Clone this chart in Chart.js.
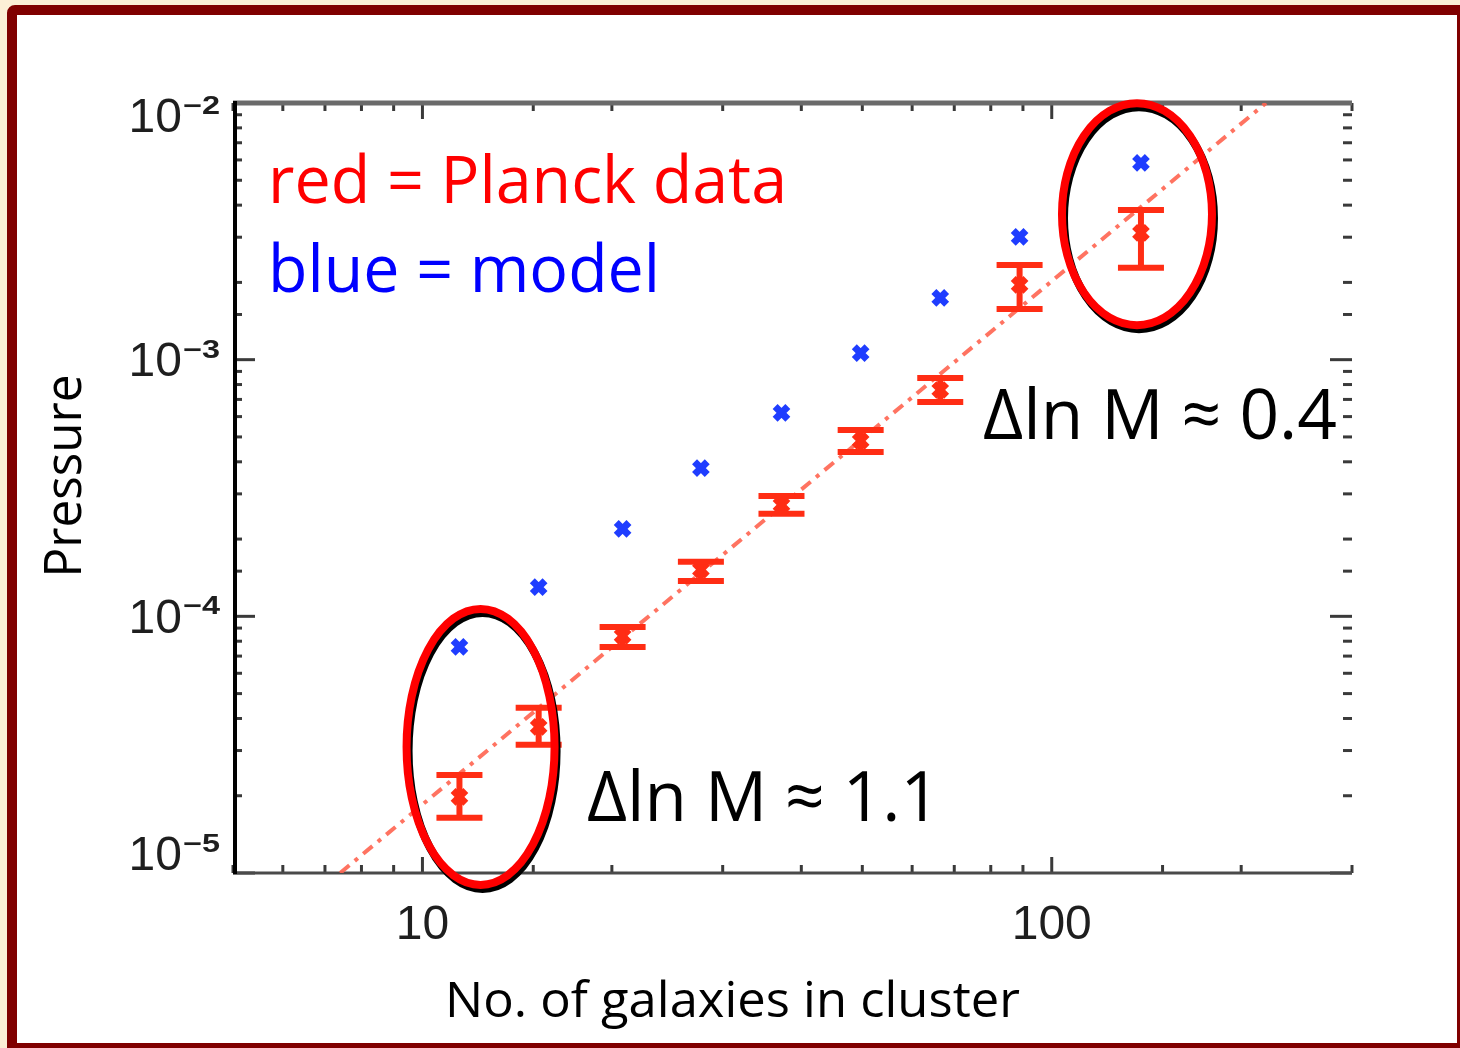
<!DOCTYPE html>
<html>
<head>
<meta charset="utf-8">
<title>Pressure vs. number of galaxies in cluster</title>
<script src="https://cdn.jsdelivr.net/npm/chart.js@4.4.1/dist/chart.umd.min.js"></script>
<style>
  html, body { margin: 0; padding: 0; }
  body { width: 1460px; height: 1048px; background: #fcefd6; position: relative; overflow: hidden; }
  .frame {
    position: absolute; left: 7px; top: 5px; right: 0; bottom: 0;
    background: #fff; box-sizing: border-box;
    border: solid #800000; border-width: 10px 3px 5px 10px;
    border-top-left-radius: 8px;
  }
  .chart-wrap { position: absolute; left: 0; top: 0; width: 1460px; height: 1048px; }
</style>
</head>
<body>
<div class="frame"></div>
<div class="chart-wrap"><canvas id="pressureChart"></canvas></div>
<script>
// richness bins (no. of galaxies) and stacked pressure per bin
const GALAXIES = [11.45, 15.3, 20.8, 27.7, 37.2, 49.7, 66.5, 88.9, 138.6];
const PLANCK_P = [1.98e-5, 3.71e-5, 8.39e-5, 1.52e-4, 2.72e-4, 4.83e-4, 7.62e-4, 1.955e-3, 3.12e-3];
const PLANCK_LO = [1.64e-5, 3.16e-5, 7.6e-5, 1.374e-4, 2.51e-4, 4.37e-4, 6.84e-4, 1.576e-3, 2.28e-3];
const PLANCK_HI = [2.41e-5, 4.4e-5, 9.09e-5, 1.63e-4, 2.94e-4, 5.32e-4, 8.49e-4, 2.34e-3, 3.83e-3];
const MODEL_P = [7.6e-5, 1.3e-4, 2.19e-4, 3.78e-4, 6.2e-4, 1.06e-3, 1.74e-3, 3.01e-3, 5.84e-3];

// dash-dot power-law fit through the Planck points
const FIT_N = [7.4, 219];
const FIT_P = [1e-5, 1e-2];

const X_LABELS = [10, 100];
const Y_EXPONENTS = [-2, -3, -4, -5];

const RED = '#ff2d14';
const BLUE = '#1f3dff';

function isDecade(v) {
  const l = Math.log10(v);
  return Math.abs(l - Math.round(l)) < 1e-6;
}

function seg(ctx, x1, y1, x2, y2) {
  ctx.beginPath();
  ctx.moveTo(x1, y1);
  ctx.lineTo(x2, y2);
  ctx.stroke();
}

// text squeezed/stretched to a fixed width
function fitText(ctx, text, x, y, width) {
  const w = ctx.measureText(text).width;
  ctx.save();
  ctx.translate(x, y);
  ctx.scale(width / w, 1);
  ctx.fillText(text, 0, 0);
  ctx.restore();
}

// IDL-style box: inward ticks on all sides, 10^n labels on the left
const idlAxes = {
  id: 'idlAxes',
  beforeDatasetsDraw(chart) {
    const { ctx, chartArea: a, scales: { x, y } } = chart;
    ctx.save();
    ctx.lineCap = 'butt';

    ctx.strokeStyle = '#3a3a3a';
    ctx.lineWidth = 3;
    x.ticks.forEach(function (t) {
      const px = x.getPixelForValue(t.value);
      const len = isDecade(t.value) ? 16 : 8;
      seg(ctx, px, a.bottom, px, a.bottom - len);
      seg(ctx, px, a.top, px, a.top + len);
    });
    y.ticks.forEach(function (t) {
      const py = y.getPixelForValue(t.value);
      const len = isDecade(t.value) ? 22 : 9;
      seg(ctx, a.left, py, a.left + len, py);
      seg(ctx, a.right, py, a.right - len, py);
    });

    ctx.strokeStyle = '#6a6a6a';
    ctx.lineWidth = 5;
    seg(ctx, a.left, a.top, a.right, a.top);
    ctx.strokeStyle = '#4a4a4a';
    ctx.lineWidth = 3;
    seg(ctx, a.left, a.bottom, a.right, a.bottom);
    ctx.strokeStyle = '#000';
    ctx.lineWidth = 4;
    seg(ctx, a.left + 2, a.top - 2, a.left + 2, a.bottom + 1);

    ctx.fillStyle = '#1e1e1e';
    Y_EXPONENTS.forEach(function (e) {
      let cy = y.getPixelForValue(Math.pow(10, e)) + 3;
      cy = Math.min(Math.max(cy, a.top + 16), a.bottom - 16);
      const sup = '\u2212' + Math.abs(e);
      const supLeft = a.left - 50;
      ctx.textAlign = 'left';
      ctx.textBaseline = 'alphabetic';
      ctx.font = 'bold 25px "Liberation Sans", Arial, sans-serif';
      fitText(ctx, sup, supLeft, cy - 5, 37);
      ctx.font = '48px "Liberation Sans", Arial, sans-serif';
      ctx.textAlign = 'right';
      ctx.textBaseline = 'middle';
      ctx.fillText('10', supLeft - 1, cy);
    });
    ctx.restore();
  }
};

const errorBars = {
  id: 'errorBars',
  afterDatasetsDraw(chart) {
    const { ctx, scales: { x, y } } = chart;
    ctx.save();
    ctx.strokeStyle = RED;
    ctx.lineWidth = 6;
    GALAXIES.forEach(function (n, i) {
      const px = x.getPixelForValue(n);
      const top = y.getPixelForValue(PLANCK_HI[i]);
      const bot = y.getPixelForValue(PLANCK_LO[i]);
      seg(ctx, px, top, px, bot);
      seg(ctx, px - 23, top, px + 23, top);
      seg(ctx, px - 23, bot, px + 23, bot);
    });
    ctx.restore();
  }
};

// highlighted bins and the labels written over the plot
const RINGS = [
  { n: 12.37, p: 3.1e-5, rx: 74, ry: 138 },
  { n: 136.6, p: 3.69e-3, rx: 75, ry: 111 }
];

const NOTES = [
  { text: 'red = Planck data', x: 268, y: 203, size: 66, width: 519, color: '#ff0000' },
  { text: 'blue = model', x: 268, y: 292, size: 66, width: 392, color: '#0000ff' },
  { text: '\u0394ln M \u2248 0.4', x: 983, y: 439, size: 70, width: 354, color: '#000' },
  { text: '\u0394ln M \u2248 1.1', x: 587, y: 821, size: 70, width: 353, color: '#000' },
  { text: 'No. of galaxies in cluster', x: 445, y: 1017, size: 50, width: 575, color: '#000' }
];

const notes = {
  id: 'notes',
  afterDraw(chart) {
    const { ctx, scales: { x, y } } = chart;
    ctx.save();
    RINGS.forEach(function (r) {
      const cx = x.getPixelForValue(r.n);
      const cy = y.getPixelForValue(r.p);
      ctx.lineWidth = 8;
      ctx.strokeStyle = '#000';
      ctx.beginPath();
      ctx.ellipse(cx + 2, cy + 4, r.rx, r.ry, 0, 0, Math.PI * 2);
      ctx.stroke();
      ctx.strokeStyle = '#ff0000';
      ctx.beginPath();
      ctx.ellipse(cx, cy, r.rx, r.ry, 0, 0, Math.PI * 2);
      ctx.stroke();
    });

    ctx.textAlign = 'left';
    ctx.textBaseline = 'alphabetic';
    NOTES.forEach(function (t) {
      ctx.fillStyle = t.color;
      ctx.font = t.size + 'px "Open Sans", "Noto Sans", sans-serif';
      fitText(ctx, t.text, t.x, t.y, t.width);
    });

    ctx.fillStyle = '#000';
    ctx.font = '52px "Open Sans", "Noto Sans", sans-serif';
    ctx.translate(81, 476);
    ctx.rotate(-Math.PI / 2);
    ctx.textAlign = 'center';
    const w = ctx.measureText('Pressure').width;
    ctx.scale(203 / w, 1);
    ctx.fillText('Pressure', 0, 0);
    ctx.restore();
  }
};

function toPoints(xs, ys) {
  return xs.map(function (v, i) { return { x: v, y: ys[i] }; });
}

new Chart(document.getElementById('pressureChart').getContext('2d'), {
  type: 'scatter',
  data: {
    datasets: [
      {
        label: 'fit',
        type: 'line',
        data: toPoints(FIT_N, FIT_P),
        borderColor: 'rgba(255, 100, 80, 0.9)',
        borderWidth: 4,
        borderDash: [12, 7, 4, 7],
        pointRadius: 0,
        fill: false,
        order: 3
      },
      {
        label: 'model',
        data: toPoints(GALAXIES, MODEL_P),
        pointStyle: 'crossRot',
        pointRadius: 9,
        borderWidth: 7,
        borderColor: BLUE,
        backgroundColor: BLUE,
        order: 2
      },
      {
        label: 'Planck',
        data: toPoints(GALAXIES, PLANCK_P),
        pointStyle: 'crossRot',
        pointRadius: 9,
        borderWidth: 7,
        borderColor: RED,
        backgroundColor: RED,
        order: 1
      }
    ]
  },
  options: {
    responsive: true,
    maintainAspectRatio: false,
    animation: false,
    layout: { padding: { top: 103, right: 108, left: 0, bottom: 0 } },
    plugins: {
      legend: { display: false },
      tooltip: { enabled: false }
    },
    scales: {
      x: {
        type: 'logarithmic',
        min: 5,
        max: 300,
        grid: { display: false, drawTicks: false },
        border: { display: false },
        ticks: {
          autoSkip: false,
          maxRotation: 0,
          padding: 24,
          color: '#1e1e1e',
          font: { family: '"Liberation Sans", Arial, sans-serif', size: 48 },
          callback: function (v) {
            return X_LABELS.some(function (l) { return Math.abs(l - v) < 1e-6; }) ? String(Math.round(v)) : '';
          }
        },
        afterFit: function (s) { s.height = 175; }
      },
      y: {
        type: 'logarithmic',
        min: 1e-5,
        max: 1e-2,
        grid: { display: false },
        border: { display: false },
        ticks: { display: false },
        afterFit: function (s) { s.width = 233; }
      }
    }
  },
  plugins: [idlAxes, errorBars, notes]
});
</script>
</body>
</html>
